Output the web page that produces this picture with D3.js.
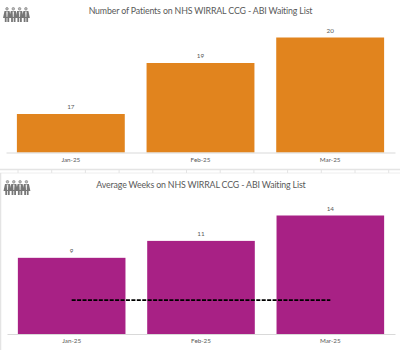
<!DOCTYPE html>
<html>
<head>
<meta charset="utf-8">
<script src="https://cdn.jsdelivr.net/npm/d3@7"></script>
<style>
  html, body { margin: 0; padding: 0; background: #fff; overflow: hidden; }
  text { font-family: Lato, sans-serif; }
</style>
</head>
<body>
<div id="chart"></div>
<script>
const months = ["Jan-25", "Feb-25", "Mar-25"];
const patients = [17, 19, 20];
const weeks = [9, 11, 14];
const weeksTarget = [4, 4, 4];

const width = 400,
  height = 350;

const svg = d3.select("#chart")
  .append("svg")
  .attr("width", width)
  .attr("height", height)
  .attr("viewBox", [0, 0, width, height]);

// sheet gridlines showing between the two panels
const grid = svg.append("g").attr("stroke", "#e4e4e4");
grid.append("line").attr("x1", 0).attr("x2", 400).attr("y1", 169.5).attr("y2", 169.5).attr("stroke-width", 1.5);
grid.append("line").attr("x1", 0).attr("x2", 400).attr("y1", 173).attr("y2", 173).attr("stroke", "#eeeeee");
grid.selectAll("line.tick")
  .data(d3.range(18, 400, 33.7))
  .join("line")
  .attr("class", "tick")
  .attr("x1", d => d).attr("x2", d => d)
  .attr("y1", 170).attr("y2", 173);
grid.append("line").attr("x1", 0.5).attr("x2", 0.5).attr("y1", 173).attr("y2", 350).attr("stroke-width", 1.5);

function drawIcon(x, y) {
  const g = svg.append("g").attr("transform", `translate(${x},${y})`);
  for (let i = 0; i < 4; i++) {
    const p = g.append("g").attr("transform", `translate(${i * 6.3},0)`);
    p.append("circle").attr("cx", 4).attr("cy", 1.8).attr("r", 1.3)
      .attr("fill", "#bbb").attr("stroke", "#777").attr("stroke-width", 0.6);
    p.append("path").attr("fill", "#777")
      .attr("d", "M1.5 4 H6.5 L8 11 H6.2 V15 H4.4 V11 H3.6 V15 H1.8 V11 H0 Z");
    p.append("path").attr("fill", "#e8e8e8").attr("d", "M3.2 4.5 H4.8 L4.4 10 H3.6 Z");
  }
}

function panel(opts) {
  const x = d3.scaleBand()
    .domain(months)
    .range([opts.left, opts.right])
    .paddingInner(0.168)
    .paddingOuter(0.084);
  const y = d3.scaleLinear()
    .domain(opts.domain)
    .range([opts.base, opts.top]);

  svg.append("text")
    .attr("x", opts.titleX)
    .attr("y", opts.titleY)
    .attr("text-anchor", "middle")
    .attr("font-size", 8.8)
    .attr("letter-spacing", -0.15)
    .attr("fill", "#595959")
    .text(opts.title);

  drawIcon(opts.iconX, opts.iconY);

  svg.append("g")
    .selectAll("rect")
    .data(opts.values)
    .join("rect")
    .attr("x", (d, i) => x(months[i]))
    .attr("y", d => y(d))
    .attr("width", x.bandwidth())
    .attr("height", d => y(opts.domain[0]) - y(d))
    .attr("fill", opts.color);

  svg.append("g")
    .selectAll("text")
    .data(opts.values)
    .join("text")
    .attr("x", (d, i) => x(months[i]) + x.bandwidth() / 2)
    .attr("y", d => y(d) - 5)
    .attr("text-anchor", "middle")
    .attr("font-size", 6.3)
    .attr("fill", "#595959")
    .text(d => d);

  const axis = svg.append("g")
    .attr("transform", `translate(0,${opts.base})`)
    .call(d3.axisBottom(x).tickSize(0).tickPadding(5));
  axis.select(".domain").attr("stroke", "#d9d9d9");
  axis.selectAll("text").attr("font-size", 6.3).attr("fill", "#595959")
    .style("font-family", "Lato, sans-serif");

  if (opts.target) {
    const line = d3.line()
      .x((d, i) => x(months[i]) + x.bandwidth() / 2)
      .y(d => y(d));
    svg.append("path")
      .attr("d", line(opts.target))
      .attr("fill", "none")
      .attr("stroke", "#000")
      .attr("stroke-width", 1.8)
      .attr("stroke-dasharray", "4,1.43");
  }
}

panel({
  title: "Number of Patients on NHS WIRRAL CCG - ABI Waiting List",
  titleX: 200.5, titleY: 14,
  iconX: 3, iconY: 7,
  values: patients,
  domain: [15.49, 20],
  base: 152.5, top: 37.5,
  left: 6, right: 395,
  color: "#e1841e"
});

panel({
  title: "Average Weeks on NHS WIRRAL CCG - ABI Waiting List",
  titleX: 201, titleY: 188,
  iconX: 3.5, iconY: 180,
  values: weeks,
  target: weeksTarget,
  domain: [0, 14],
  base: 334, top: 215.5,
  left: 7, right: 395,
  color: "#a82185"
});
</script>
</body>
</html>
